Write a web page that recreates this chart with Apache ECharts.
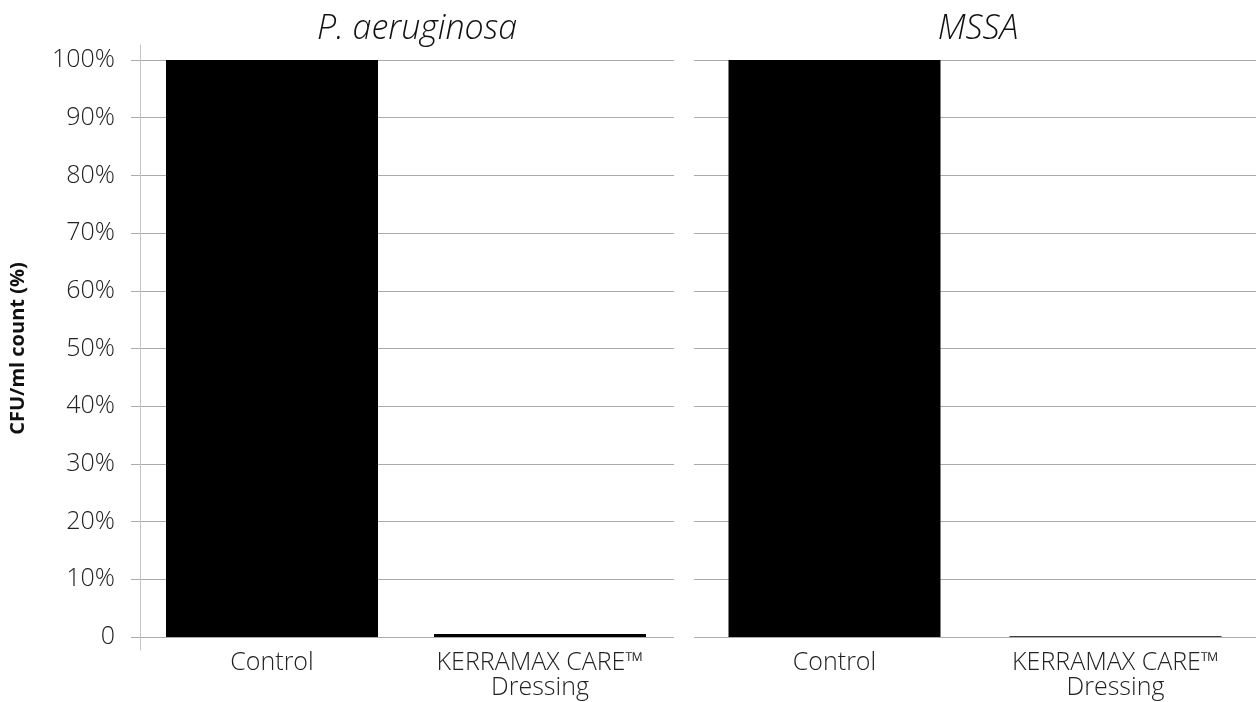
<!DOCTYPE html>
<html><head><meta charset="utf-8">
<script src="https://cdn.jsdelivr.net/npm/echarts@6/dist/echarts.min.js"></script>
<style>html,body{margin:0;padding:0;background:#fff}#c{width:1256px;height:702px}</style>
</head><body><div id="c"></div>
<script>
const categories = ['Control', 'KERRAMAX CARE™\nDressing'];
const titles = ['P. aeruginosa', 'MSSA'];
const paValues = [100, 0.5];
const mssaValues = [100, 0.15];
const yTicks = [0, 10, 20, 30, 40, 50, 60, 70, 80, 90, 100];

const FONT = '"Open Sans", "Noto Sans", sans-serif';
const gridColor = '#ababab';
const chart = echarts.init(document.getElementById('c'));

function yFmt(v){ return v === 0 ? '0' : v + '%'; }

const xLabel = {interval: 0, hideOverlap: false, fontFamily: FONT, fontWeight: 300, fontSize: 25,
  color: '#222', margin: 13, lineHeight: 25};

chart.setOption({
  animation: false,
  title: [
    {text: titles[0], left: 412, top: 7, textAlign: 'center',
     textStyle: {fontFamily: FONT, fontStyle: 'italic', fontWeight: 300, fontSize: 34, color: '#111'}},
    {text: titles[1], left: 973, top: 7, textAlign: 'center',
     textStyle: {fontFamily: FONT, fontStyle: 'italic', fontWeight: 300, fontSize: 34, color: '#111'}}
  ],
  grid: [
    {left: 138, top: 60, width: 536, height: 577},
    {left: 694, top: 60, right: 0, height: 577},
    {left: 140, top: 45, width: 1, height: 605}
  ],
  xAxis: [
    {type: 'category', gridIndex: 0, data: categories,
     axisLine: {show: false}, axisTick: {show: false}, axisLabel: xLabel},
    {type: 'category', gridIndex: 1, data: categories,
     axisLine: {show: false}, axisTick: {show: false}, axisLabel: xLabel},
    {type: 'value', gridIndex: 2, show: false}
  ],
  yAxis: [
    {type: 'value', gridIndex: 0, min: 0, max: 100, interval: 10,
     name: 'CFU/ml count (%)', nameLocation: 'middle', nameGap: 110,
     nameTextStyle: {fontFamily: FONT, fontWeight: 'bold', fontSize: 20, color: '#111'},
     axisLine: {show: false},
     axisTick: {show: true, length: 7, lineStyle: {color: gridColor}},
     axisLabel: {fontFamily: FONT, fontWeight: 300, fontSize: 25, color: '#222', margin: 23, formatter: yFmt},
     splitLine: {show: true, lineStyle: {color: gridColor, width: 1}}},
    {type: 'value', gridIndex: 1, min: 0, max: 100, interval: 10,
     axisLine: {show: false}, axisTick: {show: false}, axisLabel: {show: false},
     splitLine: {show: true, lineStyle: {color: gridColor, width: 1}}},
    {type: 'value', gridIndex: 2, min: 0, max: 1,
     axisLine: {show: true, lineStyle: {color: '#c4c4c4', width: 1}},
     axisTick: {show: false}, axisLabel: {show: false}, splitLine: {show: false}}
  ],
  series: [
    {type: 'bar', xAxisIndex: 0, yAxisIndex: 0, data: paValues, barWidth: 212,
     itemStyle: {color: '#000'}},
    {type: 'bar', xAxisIndex: 1, yAxisIndex: 1, data: mssaValues, barWidth: 212,
     itemStyle: {color: '#000'}}
  ]
});
</script>
</body></html>
